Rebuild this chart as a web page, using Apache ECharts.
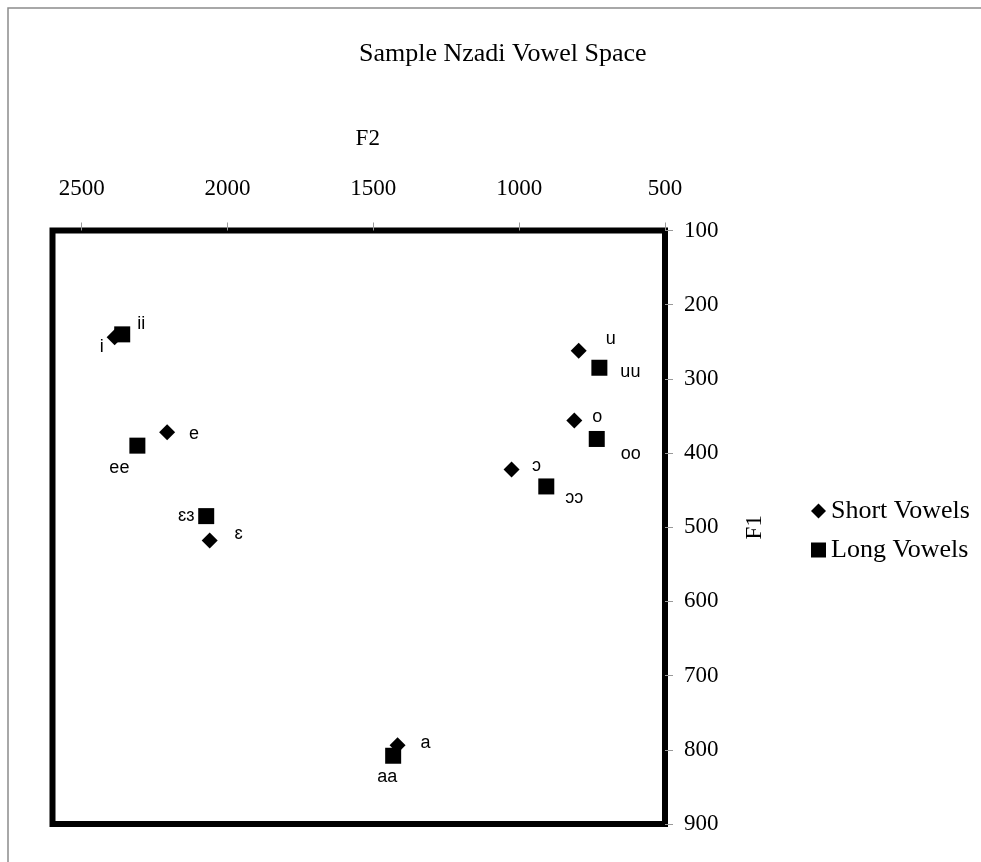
<!DOCTYPE html>
<html>
<head>
<meta charset="utf-8">
<script src="https://cdn.jsdelivr.net/npm/echarts@6/dist/echarts.min.js"></script>
<style>
html,body{margin:0;padding:0;background:#fff;}
#chart{width:981px;height:862px;}
</style>
</head>
<body>
<div id="chart"></div>
<script>
// ---- data ----
var shortNames = ['i', 'e', 'ɛ', 'a', 'ɔ', 'o', 'u'];
var shortF2 = [2387, 2207, 2061, 1417, 1026, 811, 796];
var shortF1 = [244, 372, 518, 794, 422, 356, 262];

var longNames = ['ii', 'ee', 'ɛɜ', 'aa', 'ɔɔ', 'oo', 'uu'];
var longF2 = [2361, 2309, 2073, 1432, 907, 734, 725];
var longF1 = [240, 390, 485, 808, 445, 381, 285];

var xTicks = [500, 1000, 1500, 2000, 2500];
var yTicks = [100, 200, 300, 400, 500, 600, 700, 800, 900];

// ---- label placement (style) ----
var labelOffset = {
  'i': [-13, 10], 'ii': [19, -10],
  'e': [27, 2], 'ee': [-18, 22],
  'ɛ': [29, -7], 'ɛɜ': [-20, 0],
  'a': [28, -2], 'aa': [-6, 21],
  'ɔ': [25, -3], 'ɔɔ': [28, 12],
  'o': [23, -3], 'oo': [34, 15],
  'u': [32, -12], 'uu': [31, 4]
};

function build(names, xs, ys) {
  return names.map(function (n, i) {
    return {
      name: n,
      value: [xs[i], ys[i]],
      label: { offset: labelOffset[n] }
    };
  });
}

function plain(v) { return String(v); }

var serif = 'Liberation Serif';
var sans = 'Liberation Sans';

var labelStyle = {
  show: true,
  position: 'inside',
  formatter: '{b}',
  fontFamily: sans,
  fontSize: 18,
  color: '#000',
  opacity: 1
};

var chart = echarts.init(document.getElementById('chart'));
chart.setOption({
  animation: false,
  backgroundColor: '#fff',
  title: {
    text: 'Sample Nzadi Vowel Space',
    left: 354,
    top: 36,
    textStyle: { fontFamily: serif, fontSize: 26, fontWeight: 'normal', color: '#000' }
  },
  graphic: [{
    type: 'rect',
    shape: { x: 8, y: 8, width: 1200, height: 1200 },
    style: { fill: 'none', stroke: '#8c8c8c', lineWidth: 1.5 },
    silent: true
  }],
  legend: {
    orient: 'vertical',
    left: 806,
    top: 493,
    itemWidth: 15,
    itemHeight: 15,
    itemGap: 13,
    textStyle: { fontFamily: serif, fontSize: 26, color: '#000' },
    data: [
      { name: 'Short Vowels', icon: 'diamond' },
      { name: 'Long Vowels', icon: 'rect' }
    ]
  },
  grid: {
    left: 52.5,
    right: 316,
    top: 230.5,
    bottom: 38,
    show: true,
    borderColor: '#000',
    borderWidth: 6,
    backgroundColor: 'transparent'
  },
  xAxis: {
    type: 'value',
    position: 'top',
    inverse: true,
    min: 500,
    max: 2600,
    name: 'F2',
    nameLocation: 'middle',
    nameGap: 80,
    nameTextStyle: { fontFamily: serif, fontSize: 23, color: '#000', padding: [0, 0, 0, 18] },
    axisLine: { show: false },
    axisTick: { show: true, length: 8, customValues: xTicks, lineStyle: { color: '#999', width: 1 } },
    axisLabel: { customValues: xTicks, formatter: plain, margin: 30, fontFamily: serif, fontSize: 23, color: '#000' },
    splitLine: { show: false }
  },
  yAxis: {
    type: 'value',
    position: 'right',
    inverse: true,
    min: 100,
    max: 900,
    interval: 100,
    name: 'F1',
    nameLocation: 'middle',
    nameGap: 78,
    nameRotate: 90,
    nameTextStyle: { fontFamily: serif, fontSize: 23, color: '#000' },
    axisLine: { show: false },
    axisTick: { show: true, length: 8, customValues: yTicks, lineStyle: { color: '#999', width: 1 } },
    axisLabel: { customValues: yTicks, formatter: plain, margin: 19, fontFamily: serif, fontSize: 23, color: '#000' },
    splitLine: { show: false }
  },
  series: [
    {
      name: 'Short Vowels',
      type: 'scatter',
      symbol: 'diamond',
      symbolSize: 16,
      itemStyle: { color: '#000', opacity: 1 },
      label: labelStyle,
      data: build(shortNames, shortF2, shortF1)
    },
    {
      name: 'Long Vowels',
      type: 'scatter',
      symbol: 'rect',
      symbolSize: 16,
      itemStyle: { color: '#000', opacity: 1 },
      label: labelStyle,
      data: build(longNames, longF2, longF1)
    }
  ]
});
</script>
</body>
</html>
